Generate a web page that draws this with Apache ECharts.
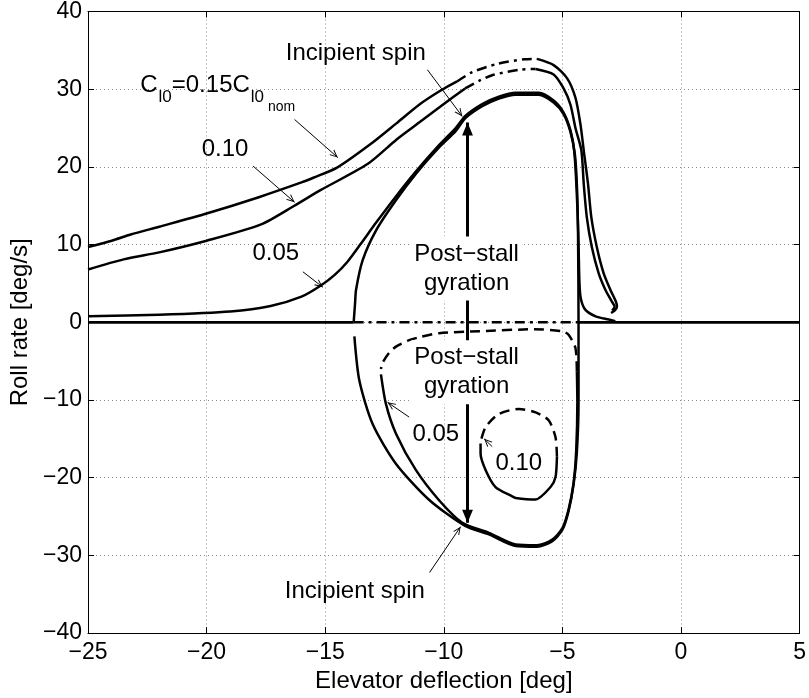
<!DOCTYPE html>
<html><head><meta charset="utf-8">
<script src="https://cdn.jsdelivr.net/npm/echarts@6/dist/echarts.min.js"></script>
<style>html,body{margin:0;padding:0;background:#fff}#c{width:809px;height:698px}</style>
</head><body><div id="c"></div>
<script>
// ---- tick labels ----
const xTickValues = [-25, -20, -15, -10, -5, 0, 5];
const xTickLabels = ['\u221225', '\u221220', '\u221215', '\u221210', '\u22125', '0', '5'];
const yTickValues = [-40, -30, -20, -10, 0, 10, 20, 30, 40];
const yTickLabels = ['\u221240', '\u221230', '\u221220', '\u221210', '0', '10', '20', '30', '40'];

// ---- zero-roll-rate equilibrium branch ----
const zeroStableLeft = [[-25, 0], [-13.8, 0]];
const zeroUnstable = [[-13.8, 0], [-4.32, 0]];
const zeroStableRight = [[-4.32, 0], [5, 0]];

// ---- symmetric loop (pitchfork branches) ----
const symLoop = [[-13.8, 0], [-13.74, 2.5], [-13.7, 4.2], [-13.42, 8.0], [-12.86, 11.8], [-12.02, 15.7], [-11.18, 19.1],
  [-10.2, 22.5], [-9.5, 24.6], [-9.08, 26.3], [-8.38, 27.8], [-7.68, 28.8], [-6.97, 29.3], [-6.0, 29.3], [-5.37, 28.3],
  [-4.95, 26.8], [-4.66, 24.5], [-4.47, 21.5], [-4.38, 17.0], [-4.34, 11.0], [-4.32, 0], [-4.32, -10.3], [-4.39, -16.7],
  [-4.53, -20.9], [-4.74, -24.3], [-5.0, -26.7], [-5.44, -28.2], [-6.07, -28.9], [-6.97, -28.8], [-8.1, -27.3],
  [-9.1, -26.2], [-10.6, -22.9], [-12.02, -18.2], [-13.0, -13.1], [-13.56, -7.5], [-13.77, -1.8]];

// ---- Cl0 = 0.05 ----
const c05Upper = [[-25, 0.77], [-22, 0.98], [-19, 1.4], [-17.3, 2.1], [-16, 3.3], [-15.2, 4.7], [-14.6, 6.1], [-14.06, 7.8],
  [-13.5, 10.1], [-12.86, 12.8], [-12.02, 16.2], [-11.18, 19.4], [-10.2, 22.8], [-9.5, 25.0], [-9.08, 26.6], [-8.38, 28.1],
  [-7.68, 29.05], [-6.97, 29.55], [-6.0, 29.55], [-5.37, 28.55], [-4.95, 27.0], [-4.66, 24.7], [-4.5, 22.0], [-4.4, 17.0],
  [-4.33, 11.4], [-4.28, 5.0], [-4.22, 3.0], [-4.03, 1.6], [-3.6, 0.77], [-3.05, 0.35], [-2.77, 0.15]];
const c05LowerStable = [[-12.65, -6.7], [-12.44, -10.5], [-12.02, -14.3], [-11.18, -19.0], [-10.2, -22.9], [-9.22, -25.8],
  [-8.1, -27.1], [-6.97, -28.6], [-6.07, -28.7], [-5.44, -28.0], [-5.0, -26.5], [-4.74, -24.1], [-4.53, -20.7],
  [-4.42, -16.6], [-4.37, -10.3], [-4.39, -6.3]];
const c05LowerUnstable = [[-4.39, -6.3], [-4.45, -3.3], [-4.74, -1.6], [-5.0, -1.15], [-6.2, -0.9], [-8.5, -1.15],
  [-10.2, -1.4], [-11.0, -1.9], [-11.46, -2.3], [-12.0, -3.1], [-12.3, -3.9], [-12.58, -5.2], [-12.65, -6.0]];

// ---- Cl0 = 0.10 ----
const c10Stable1 = [[-25, 6.8], [-23.5, 8.1], [-22, 9.0], [-20, 10.5], [-17.7, 12.6], [-16.3, 15.0], [-15.2, 17.0],
  [-13.2, 20.4], [-12, 23.5], [-11.04, 25.7], [-10, 28.1], [-9.1, 30.1]];
const c10Unstable = [[-9.1, 30.1], [-8.5, 31.1], [-7.96, 31.8], [-6.84, 32.5], [-6.13, 32.6]];
const c10Stable2 = [[-6.13, 32.6], [-5.37, 31.9], [-4.95, 30.1], [-4.66, 28.0], [-4.45, 25.0], [-4.2, 22.1], [-4.1, 17.8],
  [-3.97, 13.5], [-3.76, 9.7], [-3.47, 6.3], [-3.19, 4.2], [-2.92, 2.7], [-2.8, 2.0], [-2.9, 1.5]];
const c10LowerStable = [[-8.45, -15.6], [-8.45, -16.9], [-8.24, -19.0], [-7.82, -21.2], [-7.12, -22.4], [-6.97, -22.6],
  [-6.13, -22.8], [-5.5, -21.2], [-5.29, -19.9], [-5.23, -17.3]];
const c10LowerUnstable = [[-5.23, -17.3], [-5.29, -14.8], [-5.58, -12.6], [-6.13, -11.6], [-6.84, -11.15], [-7.68, -11.8],
  [-8.24, -13.5], [-8.45, -15.4]];

// ---- Cl0 = 0.15 ----
const c15Stable1 = [[-25, 9.7], [-24, 10.5], [-23.2, 11.3], [-22, 12.3], [-20, 14.0], [-17.8, 16.1], [-16, 18.0],
  [-15.5, 18.6], [-14.5, 19.9], [-13.1, 22.9], [-12, 25.6], [-11.04, 28.0], [-10.2, 29.7], [-9.44, 31.0]];
const c15Unstable = [[-9.44, 31.0], [-8.8, 32.2], [-7.7, 33.3], [-6.6, 33.85], [-6.07, 33.9]];
const c15Stable2 = [[-6.07, 33.9], [-5.37, 33.1], [-4.8, 31.4], [-4.45, 28.9], [-4.24, 25.5], [-4.1, 22.1], [-3.92, 17.8],
  [-3.78, 13.5], [-3.55, 9.7], [-3.26, 6.3], [-2.98, 4.2], [-2.75, 2.7], [-2.7, 2.0], [-2.8, 1.5], [-2.95, 1.2]];

// ---- annotations (data coordinates) ----
const gyrationArrow = [[-9.0, -25.8], [-9.0, 25.7]];
const pointerArrows = [
  [[-16.29, 26.1], [-14.47, 21.2]],
  [[-18.04, 20.1], [-16.29, 15.45]],
  [[-15.94, 6.5], [-15.1, 4.52]],
  [[-10.69, 32.5], [-9.22, 26.5]],
  [[-10.6, -32.2], [-9.29, -26.3]],
  [[-11.46, -12.2], [-12.37, -10.3]],
  [[-7.96, -16.0], [-8.3, -15.0]]
];
const noteTexts = ['Incipient spin', '0.10', '0.05', 'Incipient spin', '0.05', '0.10'];
const notePositions = [[-13.71, 34.57], [-19.22, 22.27], [-17.08, 8.86], [-13.75, -34.65], [-10.34, -14.45], [-6.84, -18.17]];
const gyrationText = 'Post\u2212stall\ngyration';
const gyrationPositions = [[-9.04, 6.92], [-9.04, -6.42]];
const clLabelAnchor = [-22.8, 32.06];

const FONT = '"Liberation Sans", Arial, Helvetica, sans-serif';
const DASHDOT = [10, 5, 3, 5];
const DASHED = [10, 6];

function curve(data, type, width) {
  return {
    type: 'line', data: data, showSymbol: false, symbol: 'none', smooth: 0.25, silent: true, z: 3,
    lineStyle: { color: '#000', width: width || 2.5, type: type || 'solid', cap: 'butt', join: 'round' }
  };
}
const CHEVRON = 'path://M5,12 L10.4,24 L8.8,24 L5,15.2 L1.2,24 L-0.4,24 Z M-7,0 L-6.99,0 L-7,0.01 Z M17,0 L16.99,0 L17,0.01 Z M-7,24 L-6.99,24 L-7,23.99 Z';
const TRI = 'path://M5,12 L10,24 L0,24 Z M-7,0 L-6.99,0 L-7,0.01 Z M17,0 L16.99,0 L17,0.01 Z M-7,24 L-6.99,24 L-7,23.99 Z';

function fmt(values, labels) {
  return function (v) {
    const i = values.findIndex(t => Math.abs(t - v) < 1e-9);
    return i >= 0 ? labels[i] : '';
  };
}

const axisCommon = {
  type: 'value',
  axisLine: { show: true, onZero: false, lineStyle: { color: '#000', width: 1 } },
  axisTick: { show: true, inside: true, length: 6, lineStyle: { color: '#000', width: 1 } }
};

const option = {
  animation: false,
  backgroundColor: '#fff',
  grid: { left: 88, right: 8, top: 9, bottom: 62, containLabel: false },
  xAxis: [
    Object.assign({}, axisCommon, {
      min: -25, max: 5, interval: 5, position: 'bottom',
      axisLabel: { color: '#000', fontSize: 23, fontFamily: FONT, margin: 8, formatter: fmt(xTickValues, xTickLabels), hideOverlap: false },
      splitLine: { show: true, lineStyle: { color: '#8a8a8a', width: 1, type: [1, 3] } },
      name: 'Elevator deflection [deg]', nameLocation: 'middle', nameGap: 31,
      nameTextStyle: { color: '#000', fontSize: 24, fontFamily: FONT }
    }),
    Object.assign({}, axisCommon, {
      min: -25, max: 5, interval: 5, position: 'top',
      axisLabel: { show: false }, splitLine: { show: false }
    })
  ],
  yAxis: [
    Object.assign({}, axisCommon, {
      min: -40, max: 40, interval: 10, position: 'left',
      axisLabel: { color: '#000', fontSize: 23, fontFamily: FONT, margin: 6, formatter: fmt(yTickValues, yTickLabels) },
      splitLine: { show: true, lineStyle: { color: '#8a8a8a', width: 1, type: [1, 3] } },
      name: 'Roll rate [deg/s]', nameLocation: 'middle', nameGap: 54,
      nameTextStyle: { color: '#000', fontSize: 24, fontFamily: FONT }
    }),
    Object.assign({}, axisCommon, {
      min: -40, max: 40, interval: 10, position: 'right',
      axisLabel: { show: false }, splitLine: { show: false }
    })
  ],
  series: [
    curve(zeroStableLeft, 'solid', 2.8),
    curve(zeroUnstable, DASHDOT, 2.6),
    curve(zeroStableRight, 'solid', 2.8),
    curve(symLoop),
    curve(c05Upper),
    curve(c05LowerStable),
    curve(c05LowerUnstable, DASHED),
    curve(c10Stable1),
    curve(c10Unstable, DASHDOT),
    curve(c10Stable2),
    curve(c10LowerStable),
    curve(c10LowerUnstable, DASHED),
    curve(c15Stable1),
    curve(c15Unstable, DASHDOT),
    curve(c15Stable2),
    {
      type: 'lines', coordinateSystem: 'cartesian2d', silent: true, z: 4,
      symbol: ['none', CHEVRON], symbolSize: 16,
      lineStyle: { color: '#000', width: 1, opacity: 1, curveness: 0 },
      data: pointerArrows.map(c => ({ coords: c }))
    },
    {
      type: 'lines', coordinateSystem: 'cartesian2d', silent: true, z: 4,
      symbol: [TRI, TRI], symbolSize: 26,
      lineStyle: { color: '#000', width: 3, opacity: 1, curveness: 0 },
      data: [{ coords: gyrationArrow }]
    }
  ]
};

const chart = echarts.init(document.getElementById('c'), null, { renderer: 'canvas' });
chart.setOption(option);

const P = p => chart.convertToPixel({ gridIndex: 0 }, p);
const graphics = [];
noteTexts.forEach((t, i) => {
  const p = P(notePositions[i]);
  graphics.push({
    type: 'text', x: p[0], y: p[1], z: 100,
    style: { text: t, fill: '#000', fontSize: 24, fontFamily: FONT, align: 'center', verticalAlign: 'middle' }
  });
});
gyrationPositions.forEach(pos => {
  const p = P(pos);
  graphics.push({
    type: 'text', x: p[0], y: p[1], z: 100,
    style: {
      text: gyrationText, fill: '#000', fontSize: 24, fontFamily: FONT, lineHeight: 29,
      align: 'center', verticalAlign: 'middle', backgroundColor: '#fff', padding: [3, 3, 3, 3]
    }
  });
});
const a = P(clLabelAnchor);
graphics.push({
  type: 'text', x: a[0], y: a[1], z: 100,
  style: {
    text: '{m|C}{s|l0}{m|=0.15C}{s|l0}{n|nom}',
    fill: '#000', align: 'left', verticalAlign: 'top',
    rich: {
      m: { fontSize: 24, lineHeight: 24, fontFamily: FONT, verticalAlign: 'top', fill: '#000' },
      s: { fontSize: 17, lineHeight: 17, fontFamily: FONT, verticalAlign: 'top', padding: [15.4, 0, 0, 1], fill: '#000' },
      n: { fontSize: 14, lineHeight: 14, fontFamily: FONT, verticalAlign: 'top', padding: [27, 0, 0, 4], fill: '#000' }
    }
  }
});
chart.setOption({ graphic: graphics });
</script>
</body></html>
